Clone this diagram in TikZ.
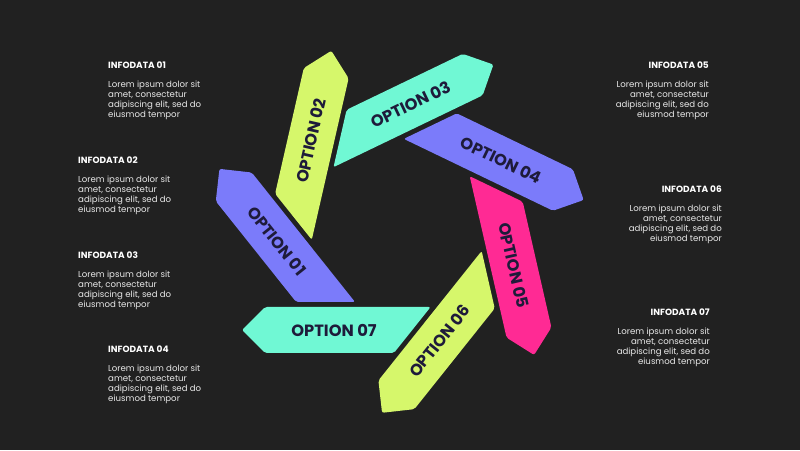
\documentclass[tikz,border=0pt]{standalone}
\usepackage{fontspec}
\setmainfont{Poppins}
\usetikzlibrary{positioning}

\definecolor{bgdark}{HTML}{212121}
\definecolor{lime}{HTML}{D6F76B}
\definecolor{mint}{HTML}{70F8D4}
\definecolor{periwinkle}{HTML}{7B7BFA}
\definecolor{hotpink}{HTML}{FF2A94}
\definecolor{navy}{HTML}{1E1B3A}
\definecolor{softwhite}{HTML}{E8E8E8}

\begin{document}
\begin{tikzpicture}[
    x=1pt,
    y=1pt,
    option/.style={
        font=\fontsize{16.3}{16}\selectfont\bfseries,
        text=navy,
        inner sep=0pt
    },
    infotitle/.style={
        font=\fontsize{9}{10}\selectfont\bfseries,
        text=white,
        inner sep=0pt
    },
    infobody/.style={
        font=\fontsize{8.6}{10}\selectfont,
        text=softwhite,
        inner sep=0pt
    }
]

\fill[bgdark] (0,0) rectangle (800,450);
\coordinate (c) at (398,224);

% pinwheel of option arrows
\foreach \i/\col in {1/periwinkle,2/lime,3/mint,4/periwinkle,5/hotpink,6/lime,7/mint}{
    \pgfmathsetmacro{\ang}{180-360/7*\i}
    \pgfmathsetmacro{\tang}{cos(\ang)<0 ? \ang+180 : \ang}
    \begin{scope}[shift={(c)}, rotate=\ang]
        \fill[\col, rounded corners=2pt] (-32.6,81) -- (133,81) -- (156,104) -- (133,127) -- (4.1,127) -- cycle;
        \node[option, rotate=\tang] (opt\i) at (64,104) {OPTION 0\i};
    \end{scope}
}

% left info blocks
\node[infotitle, anchor=north west] (t1) at (108,388) {INFODATA 01};
\node[infobody, align=left, below=12pt of t1.south west, anchor=north west] (b1) {Lorem ipsum dolor sit\\amet, consectetur\\adipiscing elit, sed do\\eiusmod tempor};

\node[infotitle, anchor=north west] (t2) at (78,293) {INFODATA 02};
\node[infobody, align=left, below=12pt of t2.south west, anchor=north west] (b2) {Lorem ipsum dolor sit\\amet, consectetur\\adipiscing elit, sed do\\eiusmod tempor};

\node[infotitle, anchor=north west] (t3) at (78,198) {INFODATA 03};
\node[infobody, align=left, below=12pt of t3.south west, anchor=north west] (b3) {Lorem ipsum dolor sit\\amet, consectetur\\adipiscing elit, sed do\\eiusmod tempor};

\node[infotitle, anchor=north west] (t4) at (108,104) {INFODATA 04};
\node[infobody, align=left, below=12pt of t4.south west, anchor=north west] (b4) {Lorem ipsum dolor sit\\amet, consectetur\\adipiscing elit, sed do\\eiusmod tempor};

% right info blocks
\node[infotitle, anchor=north east] (t5) at (709,388) {INFODATA 05};
\node[infobody, align=right, below=12pt of t5.south east, anchor=north east] (b5) {Lorem ipsum dolor sit\\amet, consectetur\\adipiscing elit, sed do\\eiusmod tempor};

\node[infotitle, anchor=north east] (t6) at (722,264) {INFODATA 06};
\node[infobody, align=right, below=12pt of t6.south east, anchor=north east] (b6) {Lorem ipsum dolor sit\\amet, consectetur\\adipiscing elit, sed do\\eiusmod tempor};

\node[infotitle, anchor=north east] (t7) at (710,141) {INFODATA 07};
\node[infobody, align=right, below=12pt of t7.south east, anchor=north east] (b7) {Lorem ipsum dolor sit\\amet, consectetur\\adipiscing elit, sed do\\eiusmod tempor};

\end{tikzpicture}
\end{document}
